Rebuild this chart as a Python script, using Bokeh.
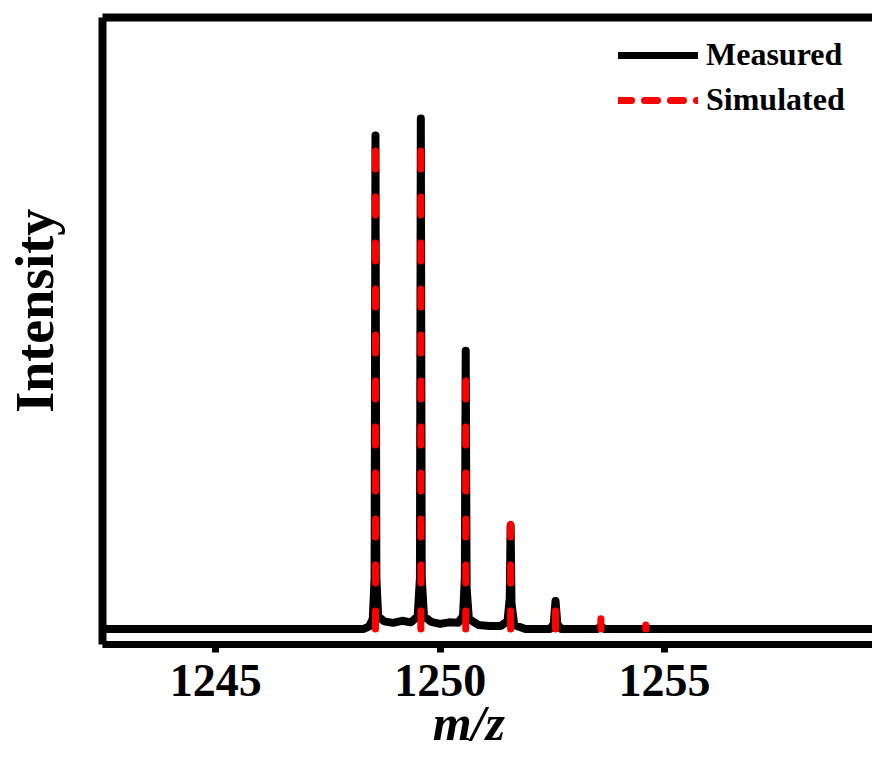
from bokeh.plotting import figure
from bokeh.models import Range1d, LinearAxis, FixedTicker, Legend, LegendItem
from bokeh.embed import file_html
from bokeh.resources import INLINE

# Measured spectrum trace (m/z, relative intensity)
measured_mz = [1242.40, 1248.30, 1248.42, 1248.50, 1248.54, 1248.56, 1248.58, 1248.62, 1248.75,
               1248.95, 1249.15, 1249.35, 1249.50, 1249.55, 1249.57, 1249.59, 1249.64, 1249.80,
               1250.00, 1250.20, 1250.40, 1250.51, 1250.55, 1250.57, 1250.59, 1250.64, 1250.85,
               1251.10, 1251.35, 1251.50, 1251.55, 1251.57, 1251.59, 1251.65, 1251.90, 1252.45,
               1252.53, 1252.57, 1252.61, 1252.70, 1253.50, 1253.58, 1253.66, 1259.70]
measured_int = [0.0, 0.0, 0.5, 2.0, 10.0, 96.7, 10.0, 2.5, 1.5,
                1.2, 1.6, 1.3, 2.5, 10.0, 100.0, 10.0, 2.5, 1.4,
                1.0, 1.3, 1.2, 2.5, 10.0, 54.5, 8.0, 2.0, 0.8,
                0.6, 0.6, 1.5, 6.0, 20.2, 5.0, 0.8, 0.0, 0.0,
                1.0, 5.5, 1.0, 0.0, 0.0, 0.6, 0.0, 0.0]

# Simulated isotope pattern (stick positions and heights)
sim_mz = [1248.56, 1249.57, 1250.57, 1251.57, 1252.57, 1253.58, 1254.58]
sim_int = [95.5, 99.0, 54.0, 20.5, 4.8, 2.0, 0.8]

x_ticks = [1245, 1250, 1255]
x_minor = [1247.5, 1252.5, 1257.5]
series_labels = ["Measured", "Simulated"]
x_title = "m/z"
y_title = "Intensity"

FONT = "Liberation Serif"
NBSP = "\u00a0"

p = figure(width=872, height=763, output_backend="svg", toolbar_location=None,
           x_range=Range1d(1242.48, 1259.63), y_range=Range1d(-3.04, 119.8),
           min_border_left=102, min_border_top=17, min_border_right=0, min_border_bottom=119,
           x_axis_location=None, y_axis_location=None)
p.outline_line_color = None
p.xgrid.visible = False
p.ygrid.visible = False
p.background_fill_color = "white"

# bottom axis
xa = LinearAxis(ticker=FixedTicker(ticks=x_ticks, minor_ticks=x_minor))
xa.axis_line_width = 7
xa.axis_line_color = "black"
xa.major_tick_line_width = 7
xa.major_tick_out = 8
xa.major_tick_in = 0
xa.minor_tick_line_width = 5
xa.minor_tick_out = 3
xa.minor_tick_in = 0
xa.major_label_text_font = FONT
xa.major_label_text_font_style = "bold"
xa.major_label_text_font_size = "46px"
xa.major_label_text_color = "black"
xa.major_label_standoff = 12
xa.axis_label = x_title + NBSP * 3
xa.axis_label_text_font = FONT
xa.axis_label_text_font_style = "bold italic"
xa.axis_label_text_font_size = "50px"
xa.axis_label_text_color = "black"
xa.axis_label_standoff = -4
p.add_layout(xa, "below")

# left axis (no ticks)
ya = LinearAxis(ticker=FixedTicker(ticks=[]))
ya.axis_line_width = 8
ya.axis_line_color = "black"
ya.major_tick_line_color = None
ya.minor_tick_line_color = None
ya.axis_label = NBSP * 3 + y_title
ya.axis_label_text_font = FONT
ya.axis_label_text_font_style = "bold"
ya.axis_label_text_font_size = "54px"
ya.axis_label_text_color = "black"
ya.axis_label_standoff = 38
p.add_layout(ya, "left")

# top border
ta = LinearAxis(ticker=FixedTicker(ticks=[]))
ta.axis_line_width = 8
ta.axis_line_color = "black"
ta.major_tick_line_color = None
ta.minor_tick_line_color = None
ta.major_label_text_font_size = "0px"
p.add_layout(ta, "above")

meas = p.line(measured_mz, measured_int, line_color="black", line_width=8,
              line_join="round", line_cap="round")
sim = p.multi_line(xs=[[m, m] for m in sim_mz], ys=[[0, v] for v in sim_int],
                   line_color="#ff0000", line_width=7, line_dash="18 28", line_cap="round")

# legend proxies (no visible data)
nan = float("nan")
leg_meas = p.line(x=[nan, nan], y=[nan, nan], line_color="black", line_width=7, line_cap="round")
leg_sim = p.line(x=[nan, nan], y=[nan, nan], line_color="#ff0000", line_width=7,
                 line_dash="13 13", line_cap="round")

legend = Legend(items=[LegendItem(label=series_labels[0], renderers=[leg_meas]),
                       LegendItem(label=series_labels[1], renderers=[leg_sim])],
                location=(516, 526), padding=0, margin=0, spacing=8,
                glyph_width=80, glyph_height=34, label_height=34, label_standoff=8,
                label_text_font=FONT, label_text_font_style="bold",
                label_text_font_size="32px", label_text_color="black",
                background_fill_alpha=0, border_line_color=None)
p.add_layout(legend, "center")

open("out.html", "w").write(file_html(p, INLINE))
